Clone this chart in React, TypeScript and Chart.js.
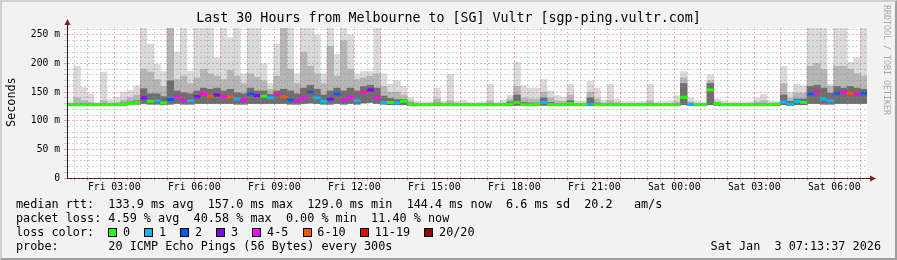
import React, { useEffect, useRef } from 'react';
import { Chart, registerables } from 'chart.js';

Chart.register(...registerables);

// ---------- data ----------
const TITLE = 'Last 30 Hours from Melbourne to [SG] Vultr [sgp-ping.vultr.com]';
const START_HOUR = 1 + 13 / 60 + 37 / 3600; // Fri 01:13:37 (hours since Fri 00:00)
const END_HOUR = START_HOUR + 30;
const STEP_HOURS = 0.25;
const Y_MAX = 262;

const medianMs = [
  128, 128, 128, 128, 128, 128, 128, 128, 129, 130,
  132, 140, 134, 135, 131, 137, 142, 136, 135, 142,
  147, 143, 145, 142, 142, 138, 136, 147, 144, 143,
  140, 146, 142, 136, 135, 140, 150, 140, 134, 138,
  147, 136, 141, 135, 150, 154, 140, 132, 132, 131,
  134, 129, 128, 128, 128, 129, 128, 128, 128, 128,
  128, 128, 128, 128, 128, 128, 129, 132, 128, 128,
  129, 132, 128, 128, 128, 130, 128, 128, 128, 128,
  128, 128, 128, 128, 128, 128, 128, 128, 128, 128,
  128, 128, 141, 129, 128, 128, 154, 130, 128, 128,
  128, 128, 128, 128, 128, 128, 129, 133, 129, 134,
  132, 147, 150, 138, 135, 148, 150, 148, 146, 148,
];

// index into lossColors
const lossIndex = [
  0, 0, 0, 0, 0, 0, 0, 0, 0, 0,
  0, 3, 0, 1, 0, 2, 4, 4, 1, 3,
  4, 5, 3, 4, 5, 1, 4, 2, 3, 0,
  1, 4, 5, 2, 4, 4, 2, 1, 1, 3,
  2, 4, 4, 1, 4, 3, 4, 1, 0, 1,
  0, 0, 0, 0, 0, 0, 0, 0, 0, 0,
  0, 0, 0, 0, 0, 0, 0, 0, 0, 0,
  0, 1, 0, 0, 0, 0, 0, 0, 1, 0,
  0, 0, 0, 0, 0, 0, 0, 0, 0, 0,
  0, 0, 0, 1, 0, 0, 0, 0, 0, 0,
  0, 0, 0, 0, 0, 0, 0, 1, 1, 1,
  0, 2, 4, 1, 1, 2, 4, 5, 4, 2,
];

const smokeLow = [
  127, 127, 127, 127, 127, 127, 127, 127, 127, 128,
  129, 130, 129, 129, 128, 129, 130, 129, 129, 130,
  130, 130, 130, 130, 130, 129, 129, 130, 130, 130,
  130, 130, 130, 129, 129, 130, 131, 130, 129, 129,
  130, 129, 130, 129, 131, 132, 130, 129, 128, 128,
  128, 127, 127, 127, 127, 127, 127, 127, 127, 127,
  127, 127, 127, 127, 127, 127, 127, 127, 127, 127,
  127, 127, 127, 127, 127, 127, 127, 127, 127, 127,
  127, 127, 127, 127, 127, 127, 127, 127, 127, 127,
  127, 127, 128, 127, 127, 127, 128, 127, 127, 127,
  127, 127, 127, 127, 127, 127, 127, 128, 127, 128,
  128, 130, 130, 129, 129, 130, 130, 130, 130, 130,
];

const smokeDark = [
  129, 130, 130, 129, 129, 130, 129, 129, 131, 133,
  135, 156, 147, 147, 142, 170, 152, 149, 147, 152,
  157, 155, 157, 152, 155, 149, 147, 157, 152, 152,
  146, 152, 155, 152, 147, 157, 162, 155, 145, 152,
  157, 152, 157, 152, 160, 162, 157, 143, 139, 137,
  137, 131, 129, 129, 129, 131, 129, 130, 129, 129,
  129, 129, 129, 130, 129, 129, 133, 145, 132, 131,
  131, 140, 132, 130, 130, 135, 129, 129, 140, 131,
  129, 130, 129, 129, 129, 129, 129, 130, 129, 129,
  129, 129, 165, 130, 129, 129, 165, 130, 129, 129,
  129, 129, 129, 130, 130, 129, 129, 145, 134, 138,
  138, 160, 162, 157, 148, 160, 157, 160, 157, 155,
];

const smokeMid = [
  130, 140, 135, 132, 130, 135, 131, 132, 136, 140,
  145, 190, 185, 172, 160, 262, 172, 178, 165, 175,
  190, 182, 178, 172, 188, 178, 165, 182, 176, 170,
  155, 178, 262, 190, 165, 220, 195, 182, 165, 230,
  178, 240, 190, 172, 175, 178, 182, 160, 150, 150,
  145, 135, 131, 130, 130, 138, 131, 135, 131, 131,
  130, 130, 130, 135, 130, 131, 138, 160, 140, 138,
  138, 150, 140, 135, 134, 145, 131, 131, 150, 138,
  131, 136, 132, 130, 130, 130, 130, 135, 130, 130,
  130, 133, 175, 133, 130, 130, 170, 133, 130, 130,
  130, 130, 130, 133, 135, 131, 131, 165, 140, 148,
  148, 195, 200, 190, 160, 195, 195, 190, 182, 178,
];

const smokeMax = [
  133, 195, 158, 147, 132, 185, 137, 141, 150, 153,
  161, 262, 234, 199, 186, 262, 220, 262, 186, 262,
  262, 262, 210, 262, 245, 262, 182, 262, 262, 200,
  165, 234, 262, 262, 182, 262, 262, 250, 182, 262,
  216, 262, 250, 182, 186, 186, 262, 182, 164, 170,
  160, 140, 134, 133, 133, 157, 134, 181, 134, 136,
  132, 132, 133, 164, 133, 136, 144, 202, 161, 157,
  157, 172, 152, 144, 141, 164, 135, 134, 169, 157,
  136, 164, 137, 133, 134, 133, 134, 164, 133, 134,
  135, 144, 186, 140, 135, 132, 180, 138, 135, 133,
  133, 133, 133, 140, 146, 135, 134, 195, 150, 164,
  161, 262, 262, 262, 164, 262, 262, 202, 210, 262,
];

const xLabelHours = [3, 6, 9, 12, 15, 18, 21, 24, 27, 30];
const xLabelTexts = ['Fri 03:00', 'Fri 06:00', 'Fri 09:00', 'Fri 12:00', 'Fri 15:00', 'Fri 18:00', 'Fri 21:00', 'Sat 00:00', 'Sat 03:00', 'Sat 06:00'];
const yLabelValues = [0, 50, 100, 150, 200, 250];
const yLabelTexts = ['0', '50 m', '100 m', '150 m', '200 m', '250 m'];

const lossColors = ['#26ff00', '#00b8ff', '#0059ff', '#7e00ff', '#ff00ff', '#ff5500', '#ff0000', '#a10000'];
const lossNames = ['0', '1', '2', '3', '4-5', '6-10', '11-19', '20/20'];

const statsRtt = 'median rtt:  133.9 ms avg  157.0 ms max  129.0 ms min  144.4 ms now  6.6 ms sd  20.2   am/s';
const statsLoss = 'packet loss: 4.59 % avg  40.58 % max  0.00 % min  11.40 % now';
const probeText = 'probe:       20 ICMP Echo Pings (56 Bytes) every 300s';
const dateText = 'Sat Jan  3 07:13:37 2026';

// ---------- style ----------
const MONO = "'DejaVu Sans Mono', monospace";
const GRID = 'rgba(143,143,143,0.42)';
const MGRID = 'rgba(222,79,79,0.45)';
const AXIS = '#1f1f1f';
const ARROW = '#801f1f';

const arrowPlugin = {
  id: 'rrdDecor',
  beforeDraw(chart: any) {
    const { ctx, chartArea } = chart;
    ctx.save();
    ctx.fillStyle = '#ffffff';
    ctx.fillRect(chartArea.left, chartArea.top, chartArea.right - chartArea.left, chartArea.bottom - chartArea.top);
    ctx.restore();
  },
  afterDraw(chart: any) {
    const { ctx, chartArea } = chart;
    const x0 = Math.round(chartArea.left) + 0.5;
    const y0 = Math.round(chartArea.bottom) + 0.5;
    ctx.save();
    ctx.strokeStyle = AXIS;
    ctx.lineWidth = 1;
    ctx.beginPath();
    ctx.moveTo(x0, chartArea.top);
    ctx.lineTo(x0, chartArea.top - 4);
    ctx.moveTo(chartArea.right, y0);
    ctx.lineTo(chartArea.right + 4, y0);
    ctx.stroke();
    ctx.fillStyle = ARROW;
    ctx.beginPath();
    ctx.moveTo(x0 - 3, chartArea.top - 3);
    ctx.lineTo(x0 + 3, chartArea.top - 3);
    ctx.lineTo(x0, chartArea.top - 9);
    ctx.closePath();
    ctx.fill();
    ctx.beginPath();
    ctx.moveTo(chartArea.right + 3, y0 - 3);
    ctx.lineTo(chartArea.right + 3, y0 + 3);
    ctx.lineTo(chartArea.right + 9, y0);
    ctx.closePath();
    ctx.fill();
    ctx.restore();
  },
};

function ChartCanvas() {
  const ref = useRef<HTMLCanvasElement | null>(null);
  useEffect(() => {
    const canvas = ref.current;
    if (!canvas) return;
    const times = medianMs.map((_, i) => START_HOUR + (i + 0.5) * STEP_HOURS);
    const band = (tops: number[]) => tops.map((t, i) => ({ x: times[i], y: [smokeLow[i], t] }));
    const barCommon = { grouped: false, barPercentage: 1, categoryPercentage: 1, borderWidth: 0 };

    const chart = new Chart(canvas, {
      type: 'bar',
      data: {
        datasets: [
          {
            type: 'line',
            data: medianMs.map((m, i) => ({ x: times[i], y: m })),
            showLine: false,
            pointStyle: 'line',
            pointRadius: 3.45,
            pointBorderWidth: 3,
            pointBorderColor: lossIndex.map((l) => lossColors[l]),
            pointBackgroundColor: lossIndex.map((l) => lossColors[l]),
            order: 0,
          } as any,
          { ...barCommon, data: band(smokeDark), backgroundColor: '#6e6e6e', order: 1 } as any,
          { ...barCommon, data: band(smokeMid), backgroundColor: '#b6b6b6', order: 2 } as any,
          { ...barCommon, data: band(smokeMax), backgroundColor: '#dadada', order: 3 } as any,
        ],
      },
      options: {
        animation: false,
        responsive: false,
        maintainAspectRatio: false,
        devicePixelRatio: 1,
        events: [],
        layout: { padding: { top: 28, right: 30, bottom: 0, left: 0 } },
        plugins: { legend: { display: false }, tooltip: { enabled: false }, title: { display: false } },
        scales: {
          x: {
            type: 'linear',
            min: START_HOUR,
            max: END_HOUR,
            offset: false,
            afterBuildTicks: (s: any) => {
              const ticks = [];
              for (let k = Math.ceil(START_HOUR * 2); k <= Math.floor(END_HOUR * 2); k++) ticks.push({ value: k / 2 });
              s.ticks = ticks;
            },
            afterFit: (s: any) => {
              s.height = 82;
            },
            ticks: {
              autoSkip: false,
              maxRotation: 0,
              minRotation: 0,
              padding: 1,
              color: '#000',
              font: { family: MONO, size: 9.7 },
              callback: (v: any) => {
                const idx = xLabelHours.indexOf(Number(v));
                return idx >= 0 ? xLabelTexts[idx] : '';
              },
            },
            grid: {
              offset: false,
              z: 1,
              lineWidth: 1,
              tickLength: 3,
              color: (c: any) => (c.tick && Number.isInteger(c.tick.value) ? MGRID : GRID),
            },
            border: { display: true, color: AXIS, width: 1, dash: [2, 2], z: 1 },
          },
          y: {
            type: 'linear',
            min: 0,
            max: Y_MAX,
            afterBuildTicks: (s: any) => {
              const ticks = [];
              for (let v = 0; v <= 260; v += 10) ticks.push({ value: v });
              s.ticks = ticks;
            },
            afterFit: (s: any) => {
              s.width = 67;
            },
            ticks: {
              autoSkip: false,
              padding: 4,
              color: '#000',
              font: { family: MONO, size: 9.7 },
              callback: (v: any) => {
                const idx = yLabelValues.indexOf(Number(v));
                return idx >= 0 ? yLabelTexts[idx] : '';
              },
            },
            grid: {
              z: 1,
              lineWidth: 1,
              tickLength: 3,
              color: (c: any) => (c.tick && c.tick.value % 50 === 0 ? MGRID : GRID),
            },
            border: { display: true, color: AXIS, width: 1, dash: [2, 2], z: 1 },
          },
        },
      } as any,
      plugins: [arrowPlugin],
    });
    return () => chart.destroy();
  }, []);
  return (
    <canvas
      ref={ref}
      width={897}
      height={260}
      style={{ position: 'absolute', left: 0, top: 0, width: 897, height: 260, display: 'block' }}
    />
  );
}

const textBase: React.CSSProperties = {
  position: 'absolute',
  fontFamily: MONO,
  fontSize: 11.8,
  lineHeight: '14px',
  height: 14,
  whiteSpace: 'pre',
  color: '#000',
};

export default function App() {
  useEffect(() => {
    document.body.style.margin = '0';
  }, []);
  return (
    <div style={{ position: 'fixed', left: 0, top: 0, width: 897, height: 260, background: '#f2f2f2', overflow: 'hidden' }}>
      <div
        style={{
          position: 'absolute',
          inset: 0,
          boxSizing: 'border-box',
          borderTop: '2px solid #cfcfcf',
          borderLeft: '2px solid #cfcfcf',
          borderRight: '2px solid #9e9e9e',
          borderBottom: '2px solid #9e9e9e',
        }}
      />
      <ChartCanvas />
      <div style={{ ...textBase, left: 0, width: 897, top: 10, fontSize: 13.3, lineHeight: '16px', height: 16, textAlign: 'center' }}>
        {TITLE}
      </div>
      <div
        style={{
          ...textBase,
          left: 4,
          top: 77,
          height: 50,
          width: 14,
          writingMode: 'vertical-rl',
          transform: 'rotate(180deg)',
          textAlign: 'center',
        }}
      >
        Seconds
      </div>
      <div
        style={{
          ...textBase,
          left: 882,
          top: 5,
          width: 10,
          height: 120,
          fontSize: 8.3,
          lineHeight: '10px',
          color: '#a8a8a8',
          writingMode: 'vertical-rl',
        }}
      >
        RRDTOOL / TOBI OETIKER
      </div>
      <div style={{ ...textBase, left: 16, top: 196.5 }}>{statsRtt}</div>
      <div style={{ ...textBase, left: 16, top: 210.8 }}>{statsLoss}</div>
      <div style={{ ...textBase, left: 16, top: 224.8 }}>
        {'loss color:  '}
        {lossNames.map((n, i) => (
          <span key={n}>
            <span
              style={{
                display: 'inline-block',
                width: 9,
                height: 9,
                boxSizing: 'border-box',
                border: '1px solid #000',
                background: lossColors[i],
                marginRight: 5.7,
                verticalAlign: 'middle',
              }}
            />
            {n}
            {i < lossNames.length - 1 ? '  ' : ''}
          </span>
        ))}
      </div>
      <div style={{ ...textBase, left: 16, top: 238.5 }}>{probeText}</div>
      <div style={{ ...textBase, right: 16, top: 238.5 }}>{dateText}</div>
    </div>
  );
}
